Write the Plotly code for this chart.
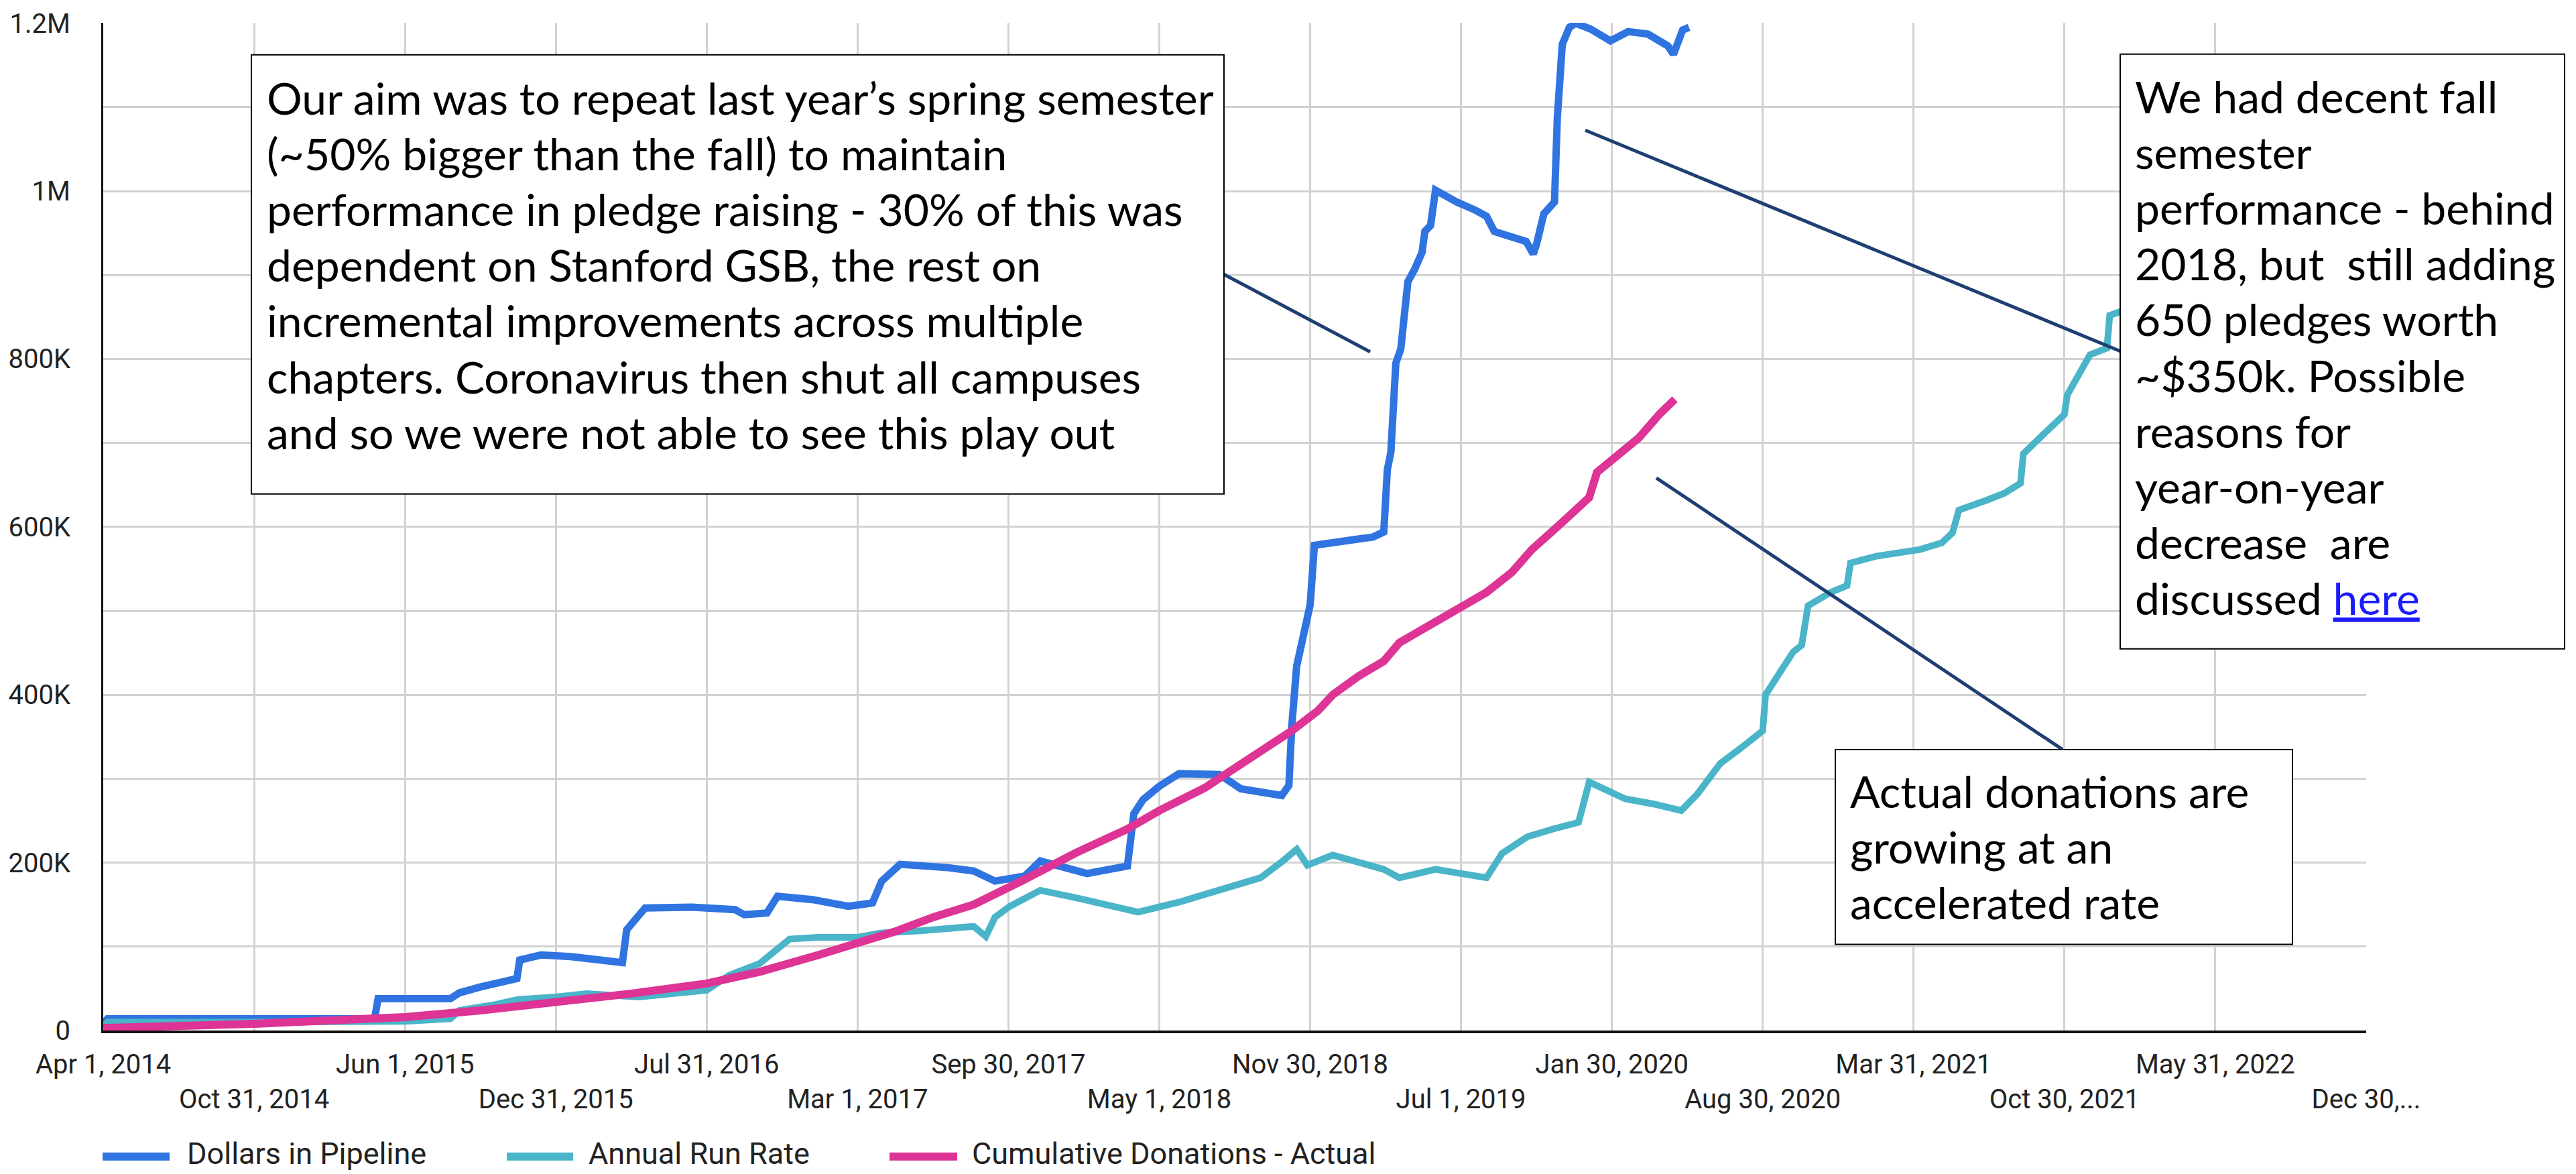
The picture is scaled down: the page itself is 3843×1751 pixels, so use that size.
import plotly.graph_objects as go

# ---------------- data (values in thousands of dollars) ----------------
pipeline_dates = ["2014-04-01","2014-04-07","2015-04-19","2015-04-24","2015-08-04","2015-08-17","2015-09-16","2015-10-07","2015-11-06","2015-11-10",
                  "2015-12-10","2016-01-21","2016-03-08","2016-04-03","2016-04-09","2016-05-05","2016-07-10","2016-09-09","2016-09-22","2016-10-24",
                  "2016-11-08","2016-12-27","2017-02-16","2017-03-22","2017-04-04","2017-04-30","2017-07-07","2017-08-12","2017-09-11","2017-10-23",
                  "2017-11-14","2018-01-04","2018-01-19","2018-03-17","2018-03-26","2018-04-08","2018-05-01","2018-05-29","2018-07-25","2018-08-24",
                  "2018-09-29","2018-10-21","2018-10-31","2018-11-04","2018-11-11","2018-11-19","2018-11-30","2018-12-06","2019-01-12","2019-02-27",
                  "2019-03-14","2019-03-19","2019-03-24","2019-03-31","2019-04-07","2019-04-17","2019-04-26","2019-05-07","2019-05-11","2019-05-19",
                  "2019-05-26","2019-06-25","2019-07-22","2019-08-06","2019-08-17","2019-09-14","2019-10-01","2019-10-11","2019-10-16","2019-10-26",
                  "2019-11-10","2019-11-14","2019-11-21","2019-12-01","2019-12-10","2019-12-31","2020-01-28","2020-02-22","2020-03-21","2020-04-18",
                  "2020-04-26","2020-05-09","2020-05-18"]
pipeline_k = [8,14,14,38,38,45,52,57,62,84,
              90,88,84,81,120,146,147,144,138,140,
              160,156,148,152,178,198,194,190,178,184,
              202,192,187,196,258,275,291,306,305,288,
              284,280,292,362,434,468,507,578,582,588,
              594,668,689,795,812,892,906,927,952,959,
              1001,987,977,970,952,945,940,925,938,973,
              987,1087,1175,1195,1200,1193,1179,1190,1187,1173,
              1163,1192,1195]

runrate_dates = ["2014-04-01","2014-04-07","2014-10-31","2015-06-01","2015-08-04","2015-08-17","2015-10-07","2015-11-08","2015-12-31","2016-02-12",
                 "2016-04-26","2016-06-08","2016-07-31","2016-09-01","2016-10-14","2016-11-25","2017-01-05","2017-03-01","2017-04-02","2017-06-01",
                 "2017-08-12","2017-08-29","2017-09-11","2017-10-02","2017-11-14","2018-01-04","2018-02-15","2018-04-01","2018-05-29","2018-08-09",
                 "2018-09-21","2018-10-21","2018-11-11","2018-11-26","2019-01-01","2019-03-14","2019-04-05","2019-05-26","2019-07-01","2019-08-06",
                 "2019-08-28","2019-10-03","2019-11-08","2019-12-14","2019-12-29","2020-02-18","2020-03-28","2020-05-07","2020-05-30","2020-07-01",
                 "2020-07-31","2020-08-30","2020-09-03","2020-09-25","2020-10-12","2020-10-24","2020-11-02","2020-12-04","2020-12-27","2021-01-01",
                 "2021-02-06","2021-04-09","2021-05-10","2021-05-25","2021-06-03","2021-07-13","2021-08-06","2021-08-29","2021-09-02","2021-09-30",
                 "2021-10-30","2021-11-03","2021-11-22","2021-12-05","2021-12-29","2022-01-02","2022-01-19"]
runrate_k = [6,10,10,11,14,24,31,37,40,44,
             40,43,48,66,80,109,111,111,116,119,
             124,112,135,148,167,158,150,141,153,170,
             182,201,216,197,209,192,182,192,187,182,
             211,231,240,248,296,276,270,262,282,318,
             337,357,400,428,451,459,506,522,530,557,
             565,573,581,593,620,632,640,652,687,710,
             734,757,785,805,813,852,857]

donations_dates = ["2014-04-01","2014-07-17","2014-10-31","2015-02-15","2015-06-01","2015-09-16","2015-12-31","2016-04-16","2016-07-31","2016-10-14",
                   "2017-01-05","2017-03-01","2017-04-23","2017-06-16","2017-08-12","2017-10-23","2018-01-04","2018-03-17","2018-05-01","2018-07-04",
                   "2018-09-14","2018-11-04","2018-12-11","2019-01-01","2019-02-06","2019-03-14","2019-04-05","2019-05-26","2019-07-01","2019-08-06",
                   "2019-09-11","2019-10-09","2019-11-14","2019-12-29","2020-01-09","2020-01-30","2020-03-08","2020-04-07","2020-04-28"]
donations_k = [3,5,8,12,16,24,33,44,56,70,
               90,104,118,135,150,180,212,240,262,289,
               328,357,381,400,422,440,462,487,505,522,
               546,573,600,635,665,680,706,735,752]

series_names = ["Dollars in Pipeline", "Annual Run Rate", "Cumulative Donations - Actual"]
series_colors = ["#2f74e0", "#4ab4c9", "#dd3496"]
series_widths = [11, 10, 12]

x_tick_dates = ["2014-04-01","2014-10-31","2015-06-01","2015-12-31","2016-07-31","2017-03-01","2017-09-30","2018-05-01",
                "2018-11-30","2019-07-01","2020-01-30","2020-08-30","2021-03-31","2021-10-30","2022-05-31","2022-12-30"]
x_tick_labels = ["Apr 1, 2014","Oct 31, 2014","Jun 1, 2015","Dec 31, 2015","Jul 31, 2016","Mar 1, 2017","Sep 30, 2017","May 1, 2018",
                 "Nov 30, 2018","Jul 1, 2019","Jan 30, 2020","Aug 30, 2020","Mar 31, 2021","Oct 30, 2021","May 31, 2022","Dec 30,..."]
y_tick_vals = [0, 200000, 400000, 600000, 800000, 1000000, 1200000]
y_tick_labels = ["0", "200K", "400K", "600K", "800K", "1M", "1.2M"]
y_minor_vals = [100000, 300000, 500000, 700000, 900000, 1100000]

note_aim = ["Our aim was to repeat last year\u2019s spring semester",
            "(~50% bigger than the fall) to maintain",
            "performance in pledge raising - 30% of this was",
            "dependent on Stanford GSB, the rest on",
            "incremental improvements across multiple",
            "chapters. Coronavirus then shut all campuses",
            "and so we were not able to see this play out"]
note_actual = ["Actual donations are", "growing at an", "accelerated rate"]
note_fall = ["We had decent fall", "semester", "performance - behind", "2018, but  still adding",
             "650 pledges worth", "~$350k. Possible", "reasons for", "year-on-year", "decrease  are",
             "discussed <span style='color:#1a1aff'><u>here</u></span>"]

# ---------------- layout geometry (pixels) ----------------
W, H = 3843, 1751
PL, PR, PT, PB = 154, 3530, 27, 1537   # plot area edges


def px(x):
    return (x - PL) / (PR - PL)


def py(y):
    return (PB - y) / (PB - PT)


fig = go.Figure()
series = [(pipeline_dates, pipeline_k), (runrate_dates, runrate_k), (donations_dates, donations_k)]
for (d, v), name, col, lw in zip(series, series_names, series_colors, series_widths):
    fig.add_trace(go.Scatter(x=d, y=[k * 1000 for k in v], mode="lines", name=name,
                             line=dict(color=col, width=lw), showlegend=False))

fig.update_layout(
    width=W, height=H, autosize=False,
    margin=dict(l=PL, r=W - PR, t=PT, b=H - PB, pad=0),
    paper_bgcolor="white", plot_bgcolor="white",
    font=dict(family="Roboto", size=40, color="#222222"),
)
fig.update_xaxes(
    type="date", range=["2014-03-31 22:00", "2022-12-30 02:00"],
    tickmode="array", tickvals=x_tick_dates,
    ticktext=[t if i % 2 == 0 else "<br>" + t for i, t in enumerate(x_tick_labels)],
    tickangle=0, ticks="", ticklabelstandoff=12,
    showgrid=True, gridcolor="#d2d2d2", gridwidth=3,
    showline=True, linecolor="#111111", linewidth=4, zeroline=False,
    tickfont=dict(family="Roboto", size=40, color="#222222"),
)
fig.update_yaxes(
    range=[0, 1200500], tickmode="array", tickvals=y_tick_vals, ticktext=y_tick_labels,
    ticks="", ticklabelstandoff=38,
    showgrid=True, gridcolor="#d2d2d2", gridwidth=3,
    minor=dict(tickvals=y_minor_vals, showgrid=True, gridcolor="#d2d2d2", gridwidth=3),
    showline=True, linecolor="#111111", linewidth=3, zeroline=False,
    tickfont=dict(family="Roboto", size=40, color="#222222"),
)

shapes = []
annotations = []

# leader lines
for (x0, y0, x1, y1) in [(1826, 404, 2044, 520), (2365, 188, 3163, 519), (2471, 709, 3077, 1116)]:
    shapes.append(dict(type="line", xref="paper", yref="paper", x0=px(x0), y0=py(y0), x1=px(x1), y1=py(y1),
                       line=dict(color="#1f3f72", width=5), layer="above"))

# note boxes
boxes = [((375, 75, 1826, 733), note_aim, 396, 139),
         ((2738, 1116, 3420, 1408), note_actual, 2758, 1178),
         ((3163, 74, 3826, 965), note_fall, 3183, 137)]
for (bx0, by0, bx1, by1), lines, tx, ty0 in boxes:
    shapes.append(dict(type="rect", xref="paper", yref="paper", x0=px(bx0), y0=py(by0), x1=px(bx1), y1=py(by1),
                       line=dict(color="#000000", width=2), fillcolor="white", layer="above"))
    for i, line in enumerate(lines):
        annotations.append(dict(xref="paper", yref="paper", x=px(tx), y=py(ty0 + i * 83.5),
                                xanchor="left", yanchor="middle", showarrow=False, align="left",
                                text=line, font=dict(family="Lato", size=66, color="#000000")))

# legend (drawn beneath the axis labels)
legend_sym = [(153, 253), (756, 855), (1327, 1428)]
legend_text_x = [278, 877, 1449]
LEG_Y = 1726
for (sx0, sx1), tx, name, col in zip(legend_sym, legend_text_x, series_names, series_colors):
    shapes.append(dict(type="line", xref="paper", yref="paper", x0=px(sx0), x1=px(sx1), y0=py(LEG_Y), y1=py(LEG_Y),
                       line=dict(color=col, width=12)))
    annotations.append(dict(xref="paper", yref="paper", x=px(tx), y=py(H - 2), xanchor="left", yanchor="bottom",
                            showarrow=False, text=name, borderpad=0,
                            font=dict(family="Roboto", size=45, color="#222222")))

fig.update_layout(shapes=shapes, annotations=annotations)

fig.write_html("out.html", config={"displayModeBar": False},
               post_script="document.body.style.margin='0';document.body.style.overflow='hidden';")
